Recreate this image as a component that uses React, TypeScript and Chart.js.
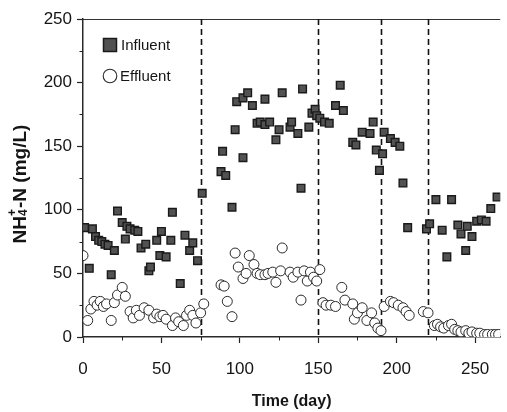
import React, { useEffect, useRef } from 'react';
import { Chart, registerables } from 'chart.js';

Chart.register(...registerables);

const FONT = '"Liberation Sans", Arial, Helvetica, sans-serif';

// Influent NH4+-N (mg/L) by day
const influentDays = [
  1, 4, 6, 8, 10, 12, 14, 16, 18, 20, 22, 25, 27, 28, 30, 33, 35, 37, 40, 42, 43, 47, 49, 50, 53, 56, 57, 62, 65, 68, 70, 73,
  76, 88, 89, 91, 95, 97, 98, 102, 102, 105, 108, 111, 113, 116, 116, 119, 123, 125, 127, 132, 133, 137, 139, 140, 144, 146, 148, 149, 151, 154, 157,
  161, 164, 166, 172, 174, 178, 183, 185, 187, 189, 191,
  192, 196, 199, 202, 204, 207, 219, 221,
  225, 229, 232, 235, 239, 241, 244, 245, 248, 251, 254, 257, 260, 264,
];
const influentValues = [
  86, 54, 85, 79, 76, 75, 73, 72, 49, 68, 99, 90, 77, 87, 85, 84, 83, 70, 73, 52, 55, 76, 64, 83, 63, 76, 98, 42, 80, 68, 74, 60,
  113, 130, 146, 127, 102, 163, 185, 141, 188, 192, 182, 168, 169, 187, 167, 169, 155, 163, 192, 165, 169, 160, 117, 195, 165, 176, 179, 174, 172, 169, 168,
  182, 198, 178, 153, 151, 161, 160, 169, 147, 131, 144,
  161, 156, 153, 150, 121, 86, 85, 89,
  108, 84, 63, 108, 88, 81, 68, 87, 79, 91, 92, 91, 101, 110,
];

// Effluent NH4+-N (mg/L) by day
const effluentDays = [
  0, 3, 5, 7, 9, 11, 13, 15, 18, 20, 22, 25, 27, 30, 32, 34, 36, 39, 42, 45, 47, 49, 51, 53, 57, 59, 61, 64, 66, 68, 70, 72, 75, 77,
  88, 90, 92, 95, 97, 99, 102, 104, 106, 109, 111, 113, 116, 118, 121, 123, 126, 127, 132, 134, 137, 139, 141, 143, 145, 147, 149, 151,
  153, 155, 158, 161, 165, 167, 172, 173, 175, 178, 181, 184, 186, 188, 190,
  192, 196, 198, 201, 204, 206, 208,
  217, 220, 224, 226, 228, 230, 233, 235, 237, 239, 241, 244, 246, 248, 251, 253, 256, 258, 261, 263, 265,
];
const effluentValues = [
  64, 13, 22, 28, 25, 28, 24, 26, 13, 27, 33, 39, 32, 20, 15, 21, 17, 23, 21, 15, 18, 16, 17, 14, 9, 15, 12, 9, 17, 21, 17, 11, 19, 26,
  41, 40, 28, 16, 66, 55, 46, 50, 64, 57, 50, 49, 49, 50, 51, 43, 52, 70, 51, 47, 51, 29, 52, 44, 51, 47, 44, 53,
  27, 25, 25, 24, 39, 29, 26, 14, 19, 23, 13, 19, 11, 7, 5,
  24, 28, 27, 25, 23, 20, 17,
  20, 19, 9, 10, 8, 7, 9, 10, 6, 5, 4, 5, 3, 4, 3, 3, 2, 2, 2, 2, 2,
];

const xTickValues = [0, 50, 100, 150, 200, 250];
const yTickValues = [0, 50, 100, 150, 200, 250];
const phaseBoundaryDays = [75, 150, 190, 220];
const seriesLabels = ['Influent', 'Effluent'];
const yTitleParts = ['NH', '4', '+', '-N (mg/L)'];
const xTitle = 'Time (day)';

const INK = '#151515';

const decorPlugin = {
  id: 'decor',
  beforeDatasetsDraw(chart: any) {
    const { ctx, chartArea, scales } = chart;
    const xs = scales.x;
    ctx.save();
    ctx.strokeStyle = '#333';
    ctx.lineWidth = 1.2;
    ctx.beginPath();
    ctx.moveTo(chartArea.left, chartArea.top + 0.5);
    ctx.lineTo(chartArea.right, chartArea.top + 0.5);
    ctx.stroke();

    ctx.strokeStyle = '#111';
    ctx.lineWidth = 1.6;
    ctx.setLineDash([6, 4]);
    for (const d of phaseBoundaryDays) {
      const px = Math.round(xs.getPixelForValue(d)) + 0.5;
      ctx.beginPath();
      ctx.moveTo(px, chartArea.top);
      ctx.lineTo(px, chartArea.bottom);
      ctx.stroke();
    }
    ctx.restore();
  },
  afterDraw(chart: any) {
    const { ctx, chartArea, scales } = chart;
    const xs = scales.x;
    const ys = scales.y;
    ctx.save();
    // minor ticks
    ctx.strokeStyle = '#222';
    ctx.lineWidth = 1;
    for (let i = 0; i < xTickValues.length; i++) {
      const m = xTickValues[i] + (xTickValues[1] - xTickValues[0]) / 2;
      if (m > xs.max) continue;
      const px = Math.round(xs.getPixelForValue(m)) + 0.5;
      ctx.beginPath();
      ctx.moveTo(px, chartArea.bottom);
      ctx.lineTo(px, chartArea.bottom + 3.5);
      ctx.stroke();
    }
    for (let i = 0; i < yTickValues.length - 1; i++) {
      const m = (yTickValues[i] + yTickValues[i + 1]) / 2;
      const py = Math.round(ys.getPixelForValue(m)) + 0.5;
      ctx.beginPath();
      ctx.moveTo(chartArea.left, py);
      ctx.lineTo(chartArea.left - 3.5, py);
      ctx.stroke();
    }

    // legend (inside the plot area, top-left)
    const ds = chart.data.datasets;
    const lx = chartArea.left + 27;
    const rows = [chartArea.top + 26, chartArea.top + 57];
    ctx.font = `15px ${FONT}`;
    ctx.textBaseline = 'middle';
    ctx.textAlign = 'left';
    // Influent: square
    ctx.fillStyle = ds[0].backgroundColor;
    ctx.strokeStyle = ds[0].borderColor;
    ctx.lineWidth = 1.5;
    ctx.fillRect(lx - 6.5, rows[0] - 6.5, 13, 13);
    ctx.strokeRect(lx - 6.5, rows[0] - 6.5, 13, 13);
    ctx.fillStyle = INK;
    ctx.fillText(ds[0].label, lx + 11, rows[0] + 0.5);
    // Effluent: circle
    ctx.beginPath();
    ctx.arc(lx, rows[1], 6.8, 0, Math.PI * 2);
    ctx.fillStyle = ds[1].backgroundColor;
    ctx.fill();
    ctx.strokeStyle = ds[1].borderColor;
    ctx.lineWidth = 1.1;
    ctx.stroke();
    ctx.fillStyle = INK;
    ctx.fillText(ds[1].label, lx + 10, rows[1] + 0.5);

    // y-axis title with stacked sub/superscript
    const big = `bold 19px ${FONT}`;
    const small = `bold 12px ${FONT}`;
    const cx = 19.5;
    const cy = 184;
    ctx.translate(cx, cy);
    ctx.rotate(-Math.PI / 2);
    ctx.textBaseline = 'alphabetic';
    ctx.fillStyle = INK;
    ctx.font = big;
    const w1 = ctx.measureText(yTitleParts[0]).width;
    const w4 = ctx.measureText(yTitleParts[3]).width;
    ctx.font = small;
    const w2 = Math.max(ctx.measureText(yTitleParts[1]).width, ctx.measureText(yTitleParts[2]).width);
    const total = w1 + w2 + 1 + w4;
    let x0 = -total / 2;
    const base = 6.8;
    ctx.font = big;
    ctx.fillText(yTitleParts[0], x0, base);
    x0 += w1;
    ctx.font = small;
    ctx.fillText(yTitleParts[1], x0, base + 1);
    ctx.fillText(yTitleParts[2], x0, base - 10.3);
    x0 += w2 + 1;
    ctx.font = big;
    ctx.fillText(yTitleParts[3], x0, base);
    ctx.restore();
  },
};

export default function App() {
  const ref = useRef<HTMLCanvasElement>(null);

  useEffect(() => {
    if (!ref.current) return;
    const chart = new Chart(ref.current, {
      type: 'scatter',
      data: {
        datasets: [
          {
            label: seriesLabels[0],
            data: influentDays.map((d, i) => ({ x: d, y: influentValues[i] })),
            pointStyle: 'rect',
            pointRadius: 5.4,
            backgroundColor: '#525252',
            borderColor: '#1a1a1a',
            borderWidth: 1.4,
          },
          {
            label: seriesLabels[1],
            data: effluentDays.map((d, i) => ({ x: d, y: effluentValues[i] })),
            pointStyle: 'circle',
            pointRadius: 5,
            backgroundColor: '#ffffff',
            borderColor: '#2a2a2a',
            borderWidth: 1,
          },
        ],
      },
      options: {
        animation: false,
        responsive: false,
        maintainAspectRatio: false,
        events: [],
        layout: { padding: { left: 0, right: 0, top: 19, bottom: 0 } },
        plugins: { legend: { display: false }, tooltip: { enabled: false } },
        scales: {
          x: {
            type: 'linear',
            min: 0,
            max: 266,
            afterFit: (s: any) => {
              s.height = 75;
            },
            afterBuildTicks: (s: any) => {
              s.ticks = xTickValues.map((v) => ({ value: v }));
            },
            ticks: {
              includeBounds: false,
              font: { family: FONT, size: 17 },
              color: INK,
              padding: 16,
              maxRotation: 0,
              autoSkip: false,
            },
            grid: { display: true, drawOnChartArea: false, drawTicks: true, tickLength: 6, color: '#222', tickColor: '#222', tickWidth: 1.2 },
            border: { display: true, color: '#2a2a2a', width: 1.5 },
            title: {
              display: true,
              text: xTitle,
              font: { family: FONT, size: 16, weight: 'bold' },
              color: INK,
              padding: { top: 0, bottom: 1 },
            },
          },
          y: {
            type: 'linear',
            min: 0,
            max: 250,
            afterFit: (s: any) => {
              s.width = 83;
            },
            afterBuildTicks: (s: any) => {
              s.ticks = yTickValues.map((v) => ({ value: v }));
            },
            ticks: {
              includeBounds: false,
              font: { family: FONT, size: 17 },
              color: INK,
              padding: 5,
              autoSkip: false,
            },
            grid: { display: true, drawOnChartArea: false, drawTicks: true, tickLength: 6, color: '#222', tickColor: '#222', tickWidth: 1.2 },
            border: { display: true, color: '#2a2a2a', width: 1.5 },
          },
        },
      },
      plugins: [decorPlugin],
    } as any);
    return () => chart.destroy();
  }, []);

  return (
    <div style={{ position: 'fixed', left: 0, top: 0, width: 507, height: 412, background: '#fff' }}>
      <canvas ref={ref} width={507} height={412} style={{ display: 'block', width: 507, height: 412 }} />
    </div>
  );
}
